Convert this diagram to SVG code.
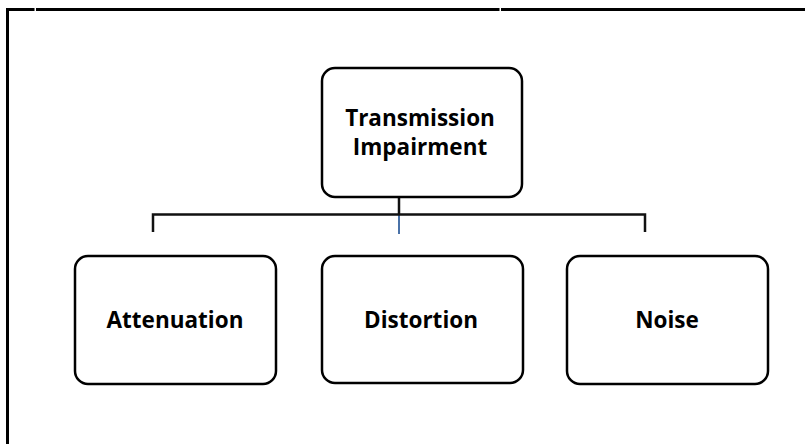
<svg xmlns="http://www.w3.org/2000/svg" width="805" height="444" viewBox="0 0 805 444">
<style>
.box{fill:#fff;stroke:#000;stroke-width:2.5}
.lbl{font-family:"Open Sans","Liberation Sans",sans-serif;font-weight:bold;font-size:22.5px;fill:#000;text-anchor:middle}
.ln{fill:none;stroke:#111;stroke-width:2.5}
.frame{fill:none;stroke:#000;stroke-width:3}
</style>
<rect width="805" height="444" fill="#fff"/>
<g id="frame">
<path class="frame" d="M7.5,444 V9.5 H34.5"/>
<path class="frame" d="M36,9.5 H499.5"/>
<path class="frame" d="M501,9.5 H805"/>
</g>
<g id="connectors">
<line x1="399" y1="177" x2="399" y2="198" stroke="#dcdcdc" stroke-width="2"/>
<line x1="399" y1="198" x2="399" y2="214" stroke="#111" stroke-width="2.5"/>
<line x1="399" y1="214" x2="399" y2="234" stroke="#4a72a8" stroke-width="2"/>
<path class="ln" d="M153,232 V214.5 H645 V232"/>
</g>
<g id="node-root">
<rect class="box" x="322" y="68" width="200" height="129" rx="13"/>
<text class="lbl" x="420" y="126">Transmission</text>
<text class="lbl" x="420" y="155">Impairment</text>
</g>
<g id="node-attenuation">
<rect class="box" x="75" y="256" width="201" height="128" rx="13"/>
<text class="lbl" x="175" y="328">Attenuation</text>
</g>
<g id="node-distortion">
<rect class="box" x="322" y="256" width="201" height="127" rx="13"/>
<text class="lbl" x="421" y="328">Distortion</text>
</g>
<g id="node-noise">
<rect class="box" x="567" y="256" width="201" height="128" rx="13"/>
<text class="lbl" x="667" y="328">Noise</text>
</g>
</svg>
